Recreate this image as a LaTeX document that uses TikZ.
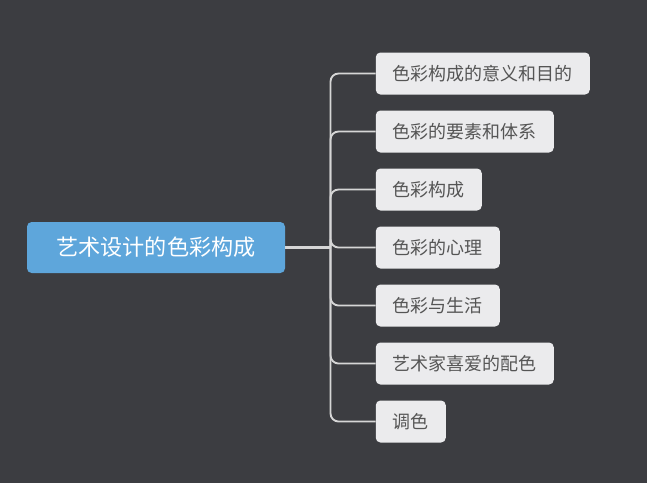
\documentclass[tikz,border=0pt]{standalone}
\usepackage{fontspec}
\setmainfont{Noto Sans CJK SC}
\usepackage{tikz}
\usepackage{xcolor}
\usetikzlibrary{positioning,calc}
\definecolor{board}{HTML}{3C3D41}
\definecolor{rootblue}{HTML}{5EA6DB}
\definecolor{leafgray}{HTML}{EBEBED}
\definecolor{leafink}{HTML}{555555}
\definecolor{wire}{HTML}{D6D6D6}
\tikzset{
  rootbox/.style={fill=rootblue,rounded corners=3.5pt,
                  minimum width=193.5pt,minimum height=38.25pt,
                  inner sep=0pt,font=\fontsize{16.6pt}{18pt}\selectfont,text=white},
  leafbox/.style={fill=leafgray,rounded corners=3.5pt,
                  minimum height=31.5pt,inner xsep=12.75pt,inner ysep=0pt,
                  font=\fontsize{13.5pt}{15pt}\selectfont,text=leafink},
  link/.style={draw=wire,line width=1.4pt,rounded corners=6pt},
  rootlink/.style={draw=wire,line width=2.2pt}
}

\begin{document}
\begin{tikzpicture}[x=0.75pt,y=-0.75pt]
      \fill[board] (0,0) rectangle (647,483);
      \useasboundingbox (0,0) rectangle (647,483);
      \node[rootbox] (root) at (156,247.5) {艺术设计的色彩构成};
      \coordinate (trunk) at (330.5,247.5);
      \foreach \i/\t in {1/色彩构成的意义和目的,2/色彩的要素和体系,3/色彩构成,
                         4/色彩的心理,5/色彩与生活,6/艺术家喜爱的配色,7/调色} {
        \node[leafbox,anchor=west] (c\i) at (375.5,{15.5+58*\i}) {\t};
      }
      \draw[rootlink] (root.east) -- (trunk);
      \foreach \i in {1,...,7} {
        \draw[link] (trunk) |- (c\i.west);
      }
    \end{tikzpicture}
\end{document}
